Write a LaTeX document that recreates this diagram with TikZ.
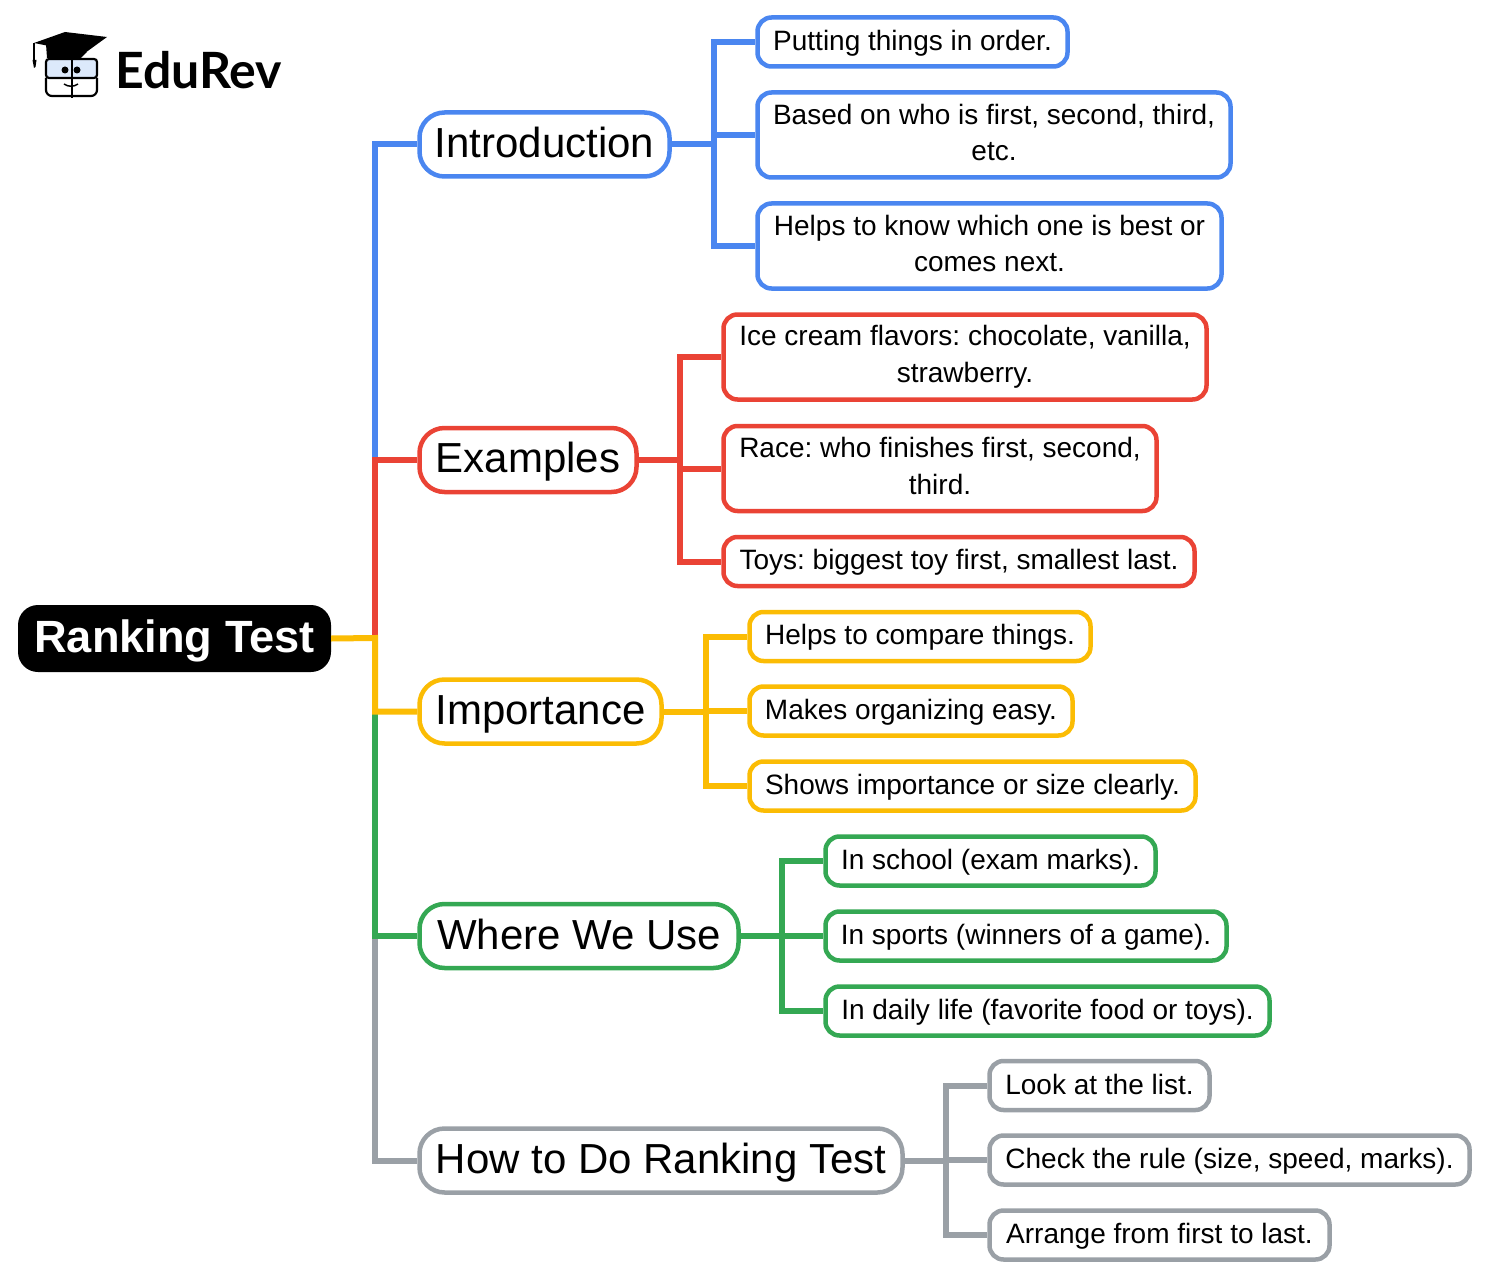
\documentclass[tikz,border=0pt]{standalone}
\usepackage{fontspec}
\setmainfont{Liberation Sans}
\newfontfamily\logofont{Lato}
\definecolor{mapblue}{HTML}{4A86F0}
\definecolor{mapred}{HTML}{EA4335}
\definecolor{mapyellow}{HTML}{FBBC04}
\definecolor{mapgreen}{HTML}{34A853}
\definecolor{mapgray}{HTML}{9AA0A6}
\definecolor{logoglass}{HTML}{DCE9FB}
\newcommand{\nodestrut}{\rule[-0.19em]{0pt}{1em}}
\newcommand{\tallstrut}{\rule[-0.19em]{0pt}{1.08em}}
\newcommand{\rootstrut}{\rule[-0.15em]{0pt}{1em}}
\tikzset{
  leaf/.style={draw=#1, line width=4.5pt, rounded corners=14pt, inner sep=0pt, align=center,
    font=\fontsize{28}{36.6}\selectfont\frenchspacing,
    execute at begin node=\nodestrut, execute at end node=\nodestrut},
  twolines/.style={execute at begin node=\tallstrut},
  branch/.style={draw=#1, line width=4.5pt, rounded corners=25pt, inner sep=0pt, minimum height=64pt,
    font=\fontsize{42}{48}\selectfont,
    execute at begin node=\nodestrut, execute at end node=\nodestrut},
  link/.style={draw=#1, line width=6pt},
}
\begin{document}
\begin{tikzpicture}[x=1pt, y=-1pt]
  \useasboundingbox (0,0) rectangle (1486,1276);

  \node[fill=black, text=white, rounded corners=20pt, inner sep=0pt, minimum width=313pt, minimum height=67pt,
    font=\fontsize{45.2}{50}\selectfont\bfseries,
    execute at begin node=\rootstrut, execute at end node=\rootstrut] (root) at (174.5,638.5) {Ranking Test};
  \coordinate (trunk) at (375,638);

  \node[branch=mapblue, minimum width=250pt] (intro) at (544.5,144.5) {Introduction};
  \node[branch=mapred, minimum width=217pt] (examples) at (528,460) {Examples};
  \node[branch=mapyellow, minimum width=242pt] (importance) at (540.5,711.5) {Importance};
  \node[branch=mapgreen, minimum width=319pt] (where) at (579,936) {Where We Use};
  \node[branch=mapgray, minimum width=483pt] (how) at (661,1160.5) {How to Do Ranking Test};

  \node[leaf=mapblue, minimum width=310pt, minimum height=49pt] (i1) at (912.5,42) {Putting things in order.};
  \node[leaf=mapblue, twolines, minimum width=473pt, minimum height=85pt] (i2) at (994,135) {Based on who is first, second, third,\\etc.};
  \node[leaf=mapblue, twolines, minimum width=464pt, minimum height=85pt] (i3) at (989.5,246) {Helps to know which one is best or\\comes next.};

  \node[leaf=mapred, twolines, minimum width=483pt, minimum height=85pt] (e1) at (965,357) {Ice cream flavors: chocolate, vanilla,\\strawberry.};
  \node[leaf=mapred, twolines, minimum width=433pt, minimum height=85pt] (e2) at (940,468.5) {Race: who finishes first, second,\\third.};
  \node[leaf=mapred, minimum width=471pt, minimum height=49pt] (e3) at (959,561.5) {Toys: biggest toy first, smallest last.};

  \node[leaf=mapyellow, minimum width=341pt, minimum height=49pt] (p1) at (920,636.5) {Helps to compare things.};
  \node[leaf=mapyellow, minimum width=323pt, minimum height=49pt] (p2) at (911,711) {Makes organizing easy.};
  \node[leaf=mapyellow, minimum width=446pt, minimum height=49pt] (p3) at (972.5,786) {Shows importance or size clearly.};

  \node[leaf=mapgreen, minimum width=330pt, minimum height=49pt] (w1) at (990.5,861) {In school (exam marks).};
  \node[leaf=mapgreen, minimum width=401pt, minimum height=49pt] (w2) at (1026,936) {In sports (winners of a game).};
  \node[leaf=mapgreen, minimum width=444pt, minimum height=49pt] (w3) at (1047.5,1011) {In daily life (favorite food or toys).};

  \node[leaf=mapgray, minimum width=220pt, minimum height=49pt] (h1) at (1099.5,1085.5) {Look at the list.};
  \node[leaf=mapgray, minimum width=480pt, minimum height=49pt] (h2) at (1229.5,1160) {Check the rule (size, speed, marks).};
  \node[leaf=mapgray, minimum width=340pt, minimum height=49pt] (h3) at (1159.5,1235) {Arrange from first to last.};

  \draw[link=mapgray] (trunk) |- (how.west);
  \draw[link=mapgreen] (trunk) |- (where.west);
  \draw[link=mapblue] (trunk) |- (intro.west);
  \draw[link=mapred] (trunk) |- (examples.west);
  \draw[link=mapyellow] (root.east) -- (trunk) |- (importance.west);

  \coordinate (jintro) at (714,144.5);
  \coordinate (jexamples) at (680,460);
  \coordinate (jimportance) at (706,711.5);
  \coordinate (jwhere) at (782,936);
  \coordinate (jhow) at (946,1160.5);

  \draw[link=mapblue] (intro.east) -- (jintro) |- (i1.west);
  \draw[link=mapblue] (jintro) |- (i2.west);
  \draw[link=mapblue] (jintro) |- (i3.west);
  \draw[link=mapred] (examples.east) -- (jexamples) |- (e1.west);
  \draw[link=mapred] (jexamples) |- (e2.west);
  \draw[link=mapred] (jexamples) |- (e3.west);
  \draw[link=mapyellow] (importance.east) -- (jimportance) |- (p1.west);
  \draw[link=mapyellow] (jimportance) |- (p2.west);
  \draw[link=mapyellow] (jimportance) |- (p3.west);
  \draw[link=mapgreen] (where.east) -- (jwhere) |- (w1.west);
  \draw[link=mapgreen] (jwhere) |- (w2.west);
  \draw[link=mapgreen] (jwhere) |- (w3.west);
  \draw[link=mapgray] (how.east) -- (jhow) |- (h1.west);
  \draw[link=mapgray] (jhow) |- (h2.west);
  \draw[link=mapgray] (jhow) |- (h3.west);

  % logo
  \node[anchor=west, inner sep=0pt, font=\fontsize{50}{56}\logofont\bfseries] (brand) at (115,70) {EduRev};
  \fill[black] (46,44) -- (87,52) -- (81,58) -- (47,58) -- cycle;
  \fill[black] (34,43) -- (65,32) -- (107,37) -- (85,53) -- cycle;
  \draw[line width=1.2pt] (34,43) -- (34,60);
  \fill[black] (32.5,60) -- (36.5,60) -- (35.5,67) -- (34,68) -- cycle;
  \draw[line width=2.2pt, fill=logoglass, rounded corners=3pt] (46,59) rectangle (97,78);
  \draw[line width=2.2pt, rounded corners=6pt] (46,78) -- (46,96) -- (97,96) -- (97,78);
  \draw[line width=1.8pt] (72,58) -- (72,98);
  \fill[black] (65,70) circle (3.5pt) (77,70) circle (3.5pt);
  \draw[line width=1.5pt] (64,84) .. controls (68,87) and (74,87) .. (78,84);
\end{tikzpicture}
\end{document}
